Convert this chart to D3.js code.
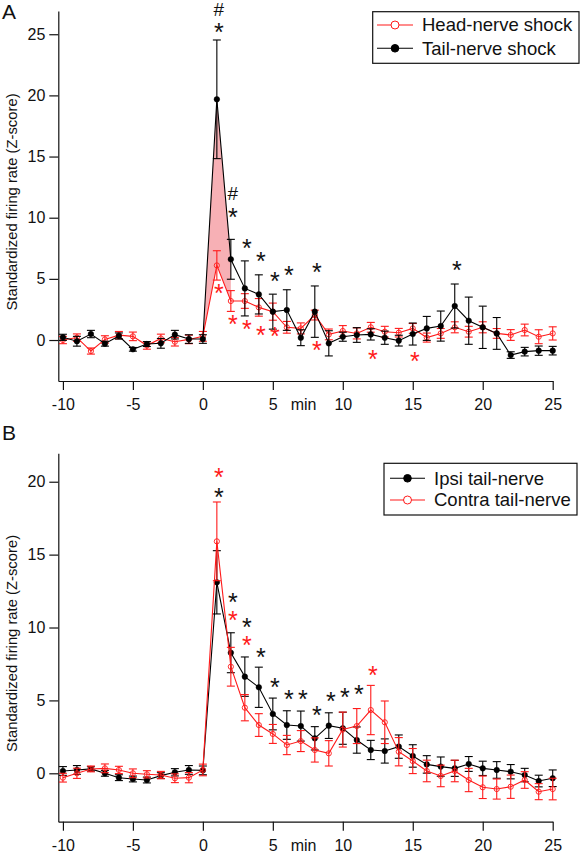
<!DOCTYPE html>
<html>
<head>
<meta charset="utf-8">
<script src="https://cdn.jsdelivr.net/npm/d3@7"></script>
<style>
  html, body { margin: 0; padding: 0; background: #fff; }
  svg { display: block; font-family: "Liberation Sans", Arial, sans-serif; }
</style>
</head>
<body>
<svg id="chart" width="580" height="853"></svg>
<script>
// ---------- DATA ----------
const minutes = [-10,-9,-8,-7,-6,-5,-4,-3,-2,-1,0,1,2,3,4,5,6,7,8,9,10,11,12,13,14,15,16,17,18,19,20,21,22,23,24,25];
const xTicks = [-10,-5,0,5,10,15,20,25];
const yTicksA = [0,5,10,15,20,25];
const yTicksB = [0,5,10,15,20];

// Panel A
const headMean = [0.0,0.2,-0.9,0.05,0.4,0.3,-0.45,0.13,-0.14,0.05,0.3,6.1,3.19,3.19,2.67,2.32,1.04,0.95,2.04,0.46,0.74,0.54,1.04,0.68,0.6,0.95,0.2,0.54,1.04,0.68,1.04,0.54,0.41,0.82,0.27,0.54];
const headErr  = [0.3,0.3,0.25,0.3,0.3,0.35,0.3,0.35,0.35,0.35,0.4,1.2,0.85,0.6,0.72,0.7,0.48,0.45,0.4,0.44,0.44,0.45,0.4,0.44,0.35,0.4,0.37,0.4,0.45,0.44,0.45,0.4,0.44,0.48,0.57,0.54];
const tailMean = [0.22,-0.1,0.49,-0.3,0.33,-0.76,-0.33,-0.27,0.44,0.08,0.08,19.68,6.6,4.22,3.73,2.32,2.45,0.19,2.32,-0.27,0.27,0.41,0.46,0.19,-0.05,0.49,0.95,1.14,2.78,1.58,1.04,0.54,-1.23,-0.95,-0.87,-0.87];
const tailErr  = [0.25,0.4,0.3,0.2,0.25,0.15,0.2,0.4,0.35,0.35,0.35,4.85,1.63,2.25,1.6,1.43,1.66,0.65,2.1,1.03,0.37,0.6,0.46,0.54,0.44,0.9,0.98,1.23,1.8,1.93,1.73,1.3,0.27,0.35,0.38,0.35];

// Panel B
const ipsiMean = [0.16,0.23,0.3,0.0,-0.3,-0.39,-0.46,-0.16,0.07,0.23,0.2,13.1,8.27,6.63,5.9,4.07,3.31,3.24,2.4,3.27,3.09,2.28,1.6,1.53,1.83,1.19,0.61,0.46,0.34,0.64,0.34,0.23,0.11,-0.12,-0.53,-0.34];
const ipsiErr  = [0.3,0.3,0.15,0.2,0.2,0.2,0.2,0.2,0.25,0.3,0.3,2.17,1.37,1.35,1.38,1.09,0.98,1.03,0.8,0.88,1.1,0.9,0.66,0.83,0.8,0.77,0.6,0.66,0.55,0.51,0.49,0.57,0.49,0.46,0.4,0.57];
const contraMean = [-0.3,0.0,0.3,0.34,0.23,0.0,-0.07,-0.12,-0.34,-0.3,0.23,15.91,7.31,4.5,3.31,2.7,1.94,2.21,1.6,1.37,3.0,3.24,4.34,3.5,1.48,0.84,0.16,-0.18,0.16,-0.46,-0.96,-1.08,-0.92,-0.46,-1.26,-1.08];
const contraErr  = [0.3,0.35,0.2,0.3,0.25,0.3,0.25,0.25,0.3,0.35,0.4,2.7,1.33,0.9,0.78,0.65,0.66,0.72,0.83,0.87,1.2,1.2,1.69,1.46,0.97,0.86,0.74,0.74,0.74,0.8,0.77,0.69,0.8,0.57,0.55,0.74];

// significance marks: [minute, z-level, symbol]
const marksA_black = [[1,27.05,"#"],[1,25.62,"*"],[2,12.02,"#"],[2,10.47,"*"],[3,7.96,"*"],[4,6.87,"*"],[5,5.23,"*"],[6,5.72,"*"],[8,5.99,"*"],[18,6.19,"*"]];
const marksA_red = [[1,4.31,"*"],[2,1.77,"*"],[3,1.37,"*"],[4,0.87,"*"],[5,0.76,"*"],[8,-0.41,"*"],[12,-1.09,"*"],[15,-1.31,"*"]];
const marksB_black = [[1,19.31,"*"],[2,12.11,"*"],[3,10.4,"*"],[4,8.34,"*"],[5,6.28,"*"],[6,5.44,"*"],[7,5.44,"*"],[8,4.34,"*"],[9,5.3,"*"],[10,5.6,"*"],[11,5.83,"*"]];
const marksB_red = [[1,20.69,"*"],[2,10.86,"*"],[3,9.14,"*"],[12,7.13,"*"]];

const shadeRange = [0,1,2];
const yLabel = "Standardized firing rate (Z-score)";
const RED = "#ff1a1a";

// ---------- DRAW ----------
const svg = d3.select("#chart");

function drawPanel(cfg) {
  const g = svg.append("g");
  const x = d3.scaleLinear().domain([-10.33, 25]).range([58.3, 552.7]);
  const y = d3.scaleLinear().domain(cfg.yDomain).range(cfg.yRange);

  // axes
  const xAxis = d3.axisBottom(x).tickValues(xTicks).tickSize(9).tickSizeOuter(0).tickPadding(9).tickFormat(d3.format("d"));
  const gx = g.append("g").attr("transform", `translate(0,${cfg.yRange[0]})`).call(xAxis);
  const yAxis = d3.axisLeft(y).tickValues(cfg.yTicks).tickSize(9).tickSizeOuter(0).tickPadding(4).tickFormat(d3.format("d"));
  const gy = g.append("g").attr("transform", `translate(58.3,0)`).call(yAxis);
  [gx, gy].forEach(a => {
    a.selectAll("text").attr("font-size", 16).attr("font-family", "Liberation Sans, Arial, sans-serif").attr("fill", "#111");
    a.selectAll("path,line").attr("stroke", "#111").attr("stroke-width", 1.2);
  });
  gx.selectAll("text").text(d => d < 0 ? "-" + Math.abs(d) : d);
  g.append("text").attr("x", x(7.2)).attr("y", cfg.yRange[0] + 9 + 9).attr("dy", "0.71em")
    .attr("text-anchor", "middle").attr("font-size", 16).attr("fill", "#111").text("min");

  // y label
  const cy = (cfg.yRange[0] + cfg.yRange[1]) / 2 + 6;
  g.append("text").attr("transform", `translate(17,${cy}) rotate(-90)`)
    .attr("text-anchor", "middle").attr("font-size", 14.8).attr("fill", "#111").text(yLabel);

  // panel letter
  g.append("text").attr("x", 2).attr("y", cfg.letterY).attr("font-size", 21).attr("fill", "#111").text(cfg.letter);

  // shaded region
  if (cfg.shade) {
    const idx = shadeRange.map(m => minutes.indexOf(m));
    const area = d3.area().x(i => x(minutes[i])).y0(i => y(cfg.shade[0][i])).y1(i => y(cfg.shade[1][i]));
    g.append("path").datum(idx).attr("d", area).attr("fill", "#f7b0b5").attr("stroke", "none");
  }

  // series
  cfg.series.forEach(s => {
    const pts = minutes.map((m, i) => ({ m, v: s.mean[i], e: s.err[i] }));
    const line = d3.line().x(d => x(d.m)).y(d => y(d.v));
    const sg = g.append("g");
    const eb = sg.selectAll("g.eb").data(pts).join("g");
    eb.append("line").attr("x1", d => x(d.m)).attr("x2", d => x(d.m))
      .attr("y1", d => y(d.v - d.e)).attr("y2", d => y(d.v + d.e)).attr("stroke", s.color).attr("stroke-width", 1.1);
    [-1, 1].forEach(sgn => {
      eb.append("line").attr("x1", d => x(d.m) - 4).attr("x2", d => x(d.m) + 4)
        .attr("y1", d => y(d.v + sgn * d.e)).attr("y2", d => y(d.v + sgn * d.e))
        .attr("stroke", s.color).attr("stroke-width", 1.1);
    });
    sg.append("path").datum(pts).attr("d", line).attr("fill", "none").attr("stroke", s.color).attr("stroke-width", 1.1);
    sg.selectAll("circle").data(pts).join("circle")
      .attr("cx", d => x(d.m)).attr("cy", d => y(d.v))
      .attr("r", s.filled ? 2.8 : 2.6)
      .attr("fill", s.filled ? s.color : "none")
      .attr("stroke", s.color).attr("stroke-width", s.filled ? 0.5 : 0.9);
  });

  // significance marks
  cfg.marks.forEach(mk => {
    g.selectAll(null).data(mk.data).join("text")
      .attr("x", d => x(d[0]) + 2)
      .attr("y", d => y(d[1]) + (d[2] === "*" ? 0.57 * 25 : 0.36 * 19))
      .attr("text-anchor", "middle")
      .attr("font-size", d => d[2] === "*" ? 25 : 19)
      .attr("fill", mk.color)
      .text(d => d[2]);
  });

  // legend
  const L = cfg.legend;
  g.append("rect").attr("x", L.x0).attr("y", L.y0).attr("width", L.x1 - L.x0).attr("height", L.y1 - L.y0)
    .attr("fill", "#fff").attr("stroke", "#111").attr("stroke-width", 1.2);
  L.items.forEach((it, k) => {
    const yy = L.rows[k];
    g.append("line").attr("x1", L.lx0).attr("x2", L.lx1).attr("y1", yy).attr("y2", yy).attr("stroke", it.color).attr("stroke-width", 1.1);
    g.append("circle").attr("cx", (L.lx0 + L.lx1) / 2).attr("cy", yy).attr("r", it.filled ? 3.8 : 4)
      .attr("fill", it.filled ? it.color : "#fff").attr("stroke", it.color).attr("stroke-width", 1);
    g.append("text").attr("x", L.tx).attr("y", yy).attr("dy", "0.35em").attr("font-size", 18.5).attr("fill", "#111").text(it.label);
  });
}

drawPanel({
  letter: "A", letterY: 19,
  yDomain: [-3.35, 26.9], yRange: [381, 11], yTicks: yTicksA,
  shade: [headMean, tailMean],
  series: [
    { mean: headMean, err: headErr, color: RED, filled: false },
    { mean: tailMean, err: tailErr, color: "#000", filled: true }
  ],
  marks: [ { data: marksA_black, color: "#111" }, { data: marksA_red, color: RED } ],
  legend: { x0: 372.7, x1: 579, y0: 11.7, y1: 63.3, rows: [25, 48.3], lx0: 377, lx1: 413, tx: 422,
    items: [ { label: "Head-nerve shock", color: RED, filled: false }, { label: "Tail-nerve shock", color: "#000", filled: true } ] }
});

drawPanel({
  letter: "B", letterY: 440,
  yDomain: [-3.32, 21.95], yRange: [821.7, 453.3], yTicks: yTicksB,
  shade: null,
  series: [
    { mean: ipsiMean, err: ipsiErr, color: "#000", filled: true },
    { mean: contraMean, err: contraErr, color: RED, filled: false }
  ],
  marks: [ { data: marksB_black, color: "#111" }, { data: marksB_red, color: RED } ],
  legend: { x0: 384, x1: 577, y0: 463.3, y1: 515, rows: [478.3, 500], lx0: 390, lx1: 425, tx: 434,
    items: [ { label: "Ipsi tail-nerve", color: "#000", filled: true }, { label: "Contra tail-nerve", color: RED, filled: false } ] }
});
</script>
</body>
</html>
